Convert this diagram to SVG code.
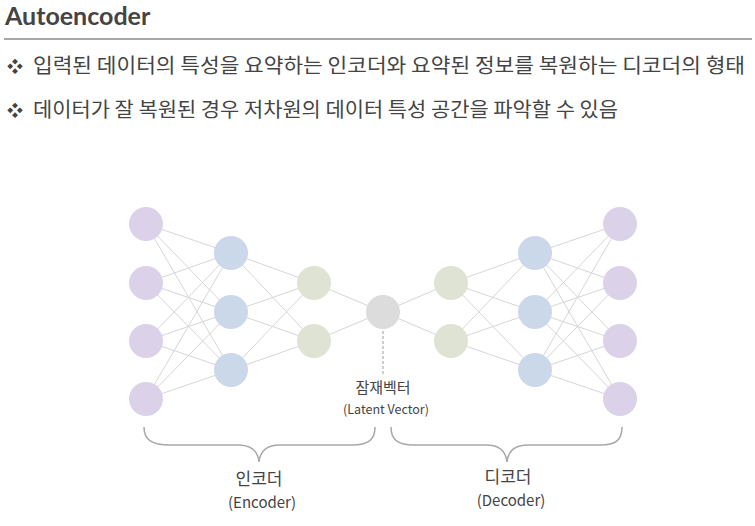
<svg xmlns="http://www.w3.org/2000/svg" width="755" height="526" viewBox="0 0 755 526">
<style>
.t{font-family:"Noto Sans CJK KR","Noto Sans",sans-serif;fill:#444}
.h{font-family:"Lato","Liberation Sans",sans-serif;font-weight:bold;font-size:25px;fill:#444}
.b{font-size:20px}
.d{font-size:16px}
.s{text-anchor:middle}
.k{font-size:17px}
.en{font-size:15px}
.lk{font-size:15px}
.le{font-size:12.5px}
.e line{stroke:#d6d6d6;stroke-width:1}
.p{fill:#dbd2ea}
.bl{fill:#cad8ea}
.g{fill:#dfe3d3}
.l{fill:#dcdcdc}
.br{fill:none;stroke:#a8a8a8;stroke-width:1.5}
</style>
<rect width="755" height="526" fill="#fff"/>
<g id="header">
<text class="h" x="5" y="25">Autoencoder</text>
<line x1="4" y1="39" x2="752" y2="39" stroke="#8a8a8a" stroke-width="1.5"/>
<text class="t d" x="7" y="72">❖</text>
<text class="t b" x="33" y="73" textLength="712" lengthAdjust="spacingAndGlyphs">입력된 데이터의 특성을 요약하는 인코더와 요약된 정보를 복원하는 디코더의 형태</text>
<text class="t d" x="7" y="116">❖</text>
<text class="t b" x="33" y="117" textLength="585" lengthAdjust="spacingAndGlyphs">데이터가 잘 복원된 경우 저차원의 데이터 특성 공간을 파악할 수 있음</text>
</g>
<g id="connectors" class="e">
<line x1="146" y1="224" x2="231" y2="253"/><line x1="146" y1="224" x2="231" y2="312"/><line x1="146" y1="224" x2="231" y2="370"/>
<line x1="146" y1="283" x2="231" y2="253"/><line x1="146" y1="283" x2="231" y2="312"/><line x1="146" y1="283" x2="231" y2="370"/>
<line x1="146" y1="341" x2="231" y2="253"/><line x1="146" y1="341" x2="231" y2="312"/><line x1="146" y1="341" x2="231" y2="370"/>
<line x1="146" y1="399" x2="231" y2="253"/><line x1="146" y1="399" x2="231" y2="312"/><line x1="146" y1="399" x2="231" y2="370"/>
<line x1="231" y1="253" x2="314" y2="283"/><line x1="231" y1="253" x2="314" y2="341"/>
<line x1="231" y1="312" x2="314" y2="283"/><line x1="231" y1="312" x2="314" y2="341"/>
<line x1="231" y1="370" x2="314" y2="283"/><line x1="231" y1="370" x2="314" y2="341"/>
<line x1="314" y1="283" x2="383" y2="312"/><line x1="314" y1="341" x2="383" y2="312"/>
<line x1="383" y1="312" x2="451" y2="283"/><line x1="383" y1="312" x2="451" y2="341"/>
<line x1="451" y1="283" x2="535" y2="253"/><line x1="451" y1="283" x2="535" y2="312"/><line x1="451" y1="283" x2="535" y2="370"/>
<line x1="451" y1="341" x2="535" y2="253"/><line x1="451" y1="341" x2="535" y2="312"/><line x1="451" y1="341" x2="535" y2="370"/>
<line x1="535" y1="253" x2="620" y2="224"/><line x1="535" y1="253" x2="620" y2="283"/><line x1="535" y1="253" x2="620" y2="341"/><line x1="535" y1="253" x2="620" y2="399"/>
<line x1="535" y1="312" x2="620" y2="224"/><line x1="535" y1="312" x2="620" y2="283"/><line x1="535" y1="312" x2="620" y2="341"/><line x1="535" y1="312" x2="620" y2="399"/>
<line x1="535" y1="370" x2="620" y2="224"/><line x1="535" y1="370" x2="620" y2="283"/><line x1="535" y1="370" x2="620" y2="341"/><line x1="535" y1="370" x2="620" y2="399"/>
<line x1="383" y1="331" x2="383" y2="376" stroke-dasharray="3,2" style="stroke:#9a9a9a"/>
</g>
<g id="input-layer">
<circle class="p" cx="146" cy="224" r="17"/><circle class="p" cx="146" cy="283" r="17"/><circle class="p" cx="146" cy="341" r="17"/><circle class="p" cx="146" cy="399" r="17"/>
</g>
<g id="encoder-hidden1">
<circle class="bl" cx="231" cy="253" r="17"/><circle class="bl" cx="231" cy="312" r="17"/><circle class="bl" cx="231" cy="370" r="17"/>
</g>
<g id="encoder-hidden2">
<circle class="g" cx="314" cy="283" r="17"/><circle class="g" cx="314" cy="341" r="17"/>
</g>
<g id="latent">
<circle class="l" cx="383" cy="312" r="17"/>
<text class="t s lk" x="383" y="393">잠재벡터</text>
<text class="t s le" x="386" y="414">(Latent Vector)</text>
</g>
<g id="decoder-hidden1">
<circle class="g" cx="451" cy="283" r="17"/><circle class="g" cx="451" cy="341" r="17"/>
</g>
<g id="decoder-hidden2">
<circle class="bl" cx="535" cy="253" r="17"/><circle class="bl" cx="535" cy="312" r="17"/><circle class="bl" cx="535" cy="370" r="17"/>
</g>
<g id="output-layer">
<circle class="p" cx="620" cy="224" r="17"/><circle class="p" cx="620" cy="283" r="17"/><circle class="p" cx="620" cy="341" r="17"/><circle class="p" cx="620" cy="399" r="17"/>
</g>
<g id="encoder-brace">
<path class="br" d="M144,427 C144,440 152,445 170,445 L238,445 C252,445 258,452 259,462 C260,452 266,445 280,445 L352,445 C368,445 375,440 375,427"/>
<text class="t s k" x="259" y="485">인코더</text>
<text class="t s en" x="262" y="508">(Encoder)</text>
</g>
<g id="decoder-brace">
<path class="br" d="M391,427 C391,440 398,445 414,445 L486,445 C500,445 506,452 507,462 C508,452 514,445 528,445 L600,445 C616,445 622,440 622,427"/>
<text class="t s k" x="508" y="483">디코더</text>
<text class="t s en" x="511" y="506">(Decoder)</text>
</g>
</svg>
